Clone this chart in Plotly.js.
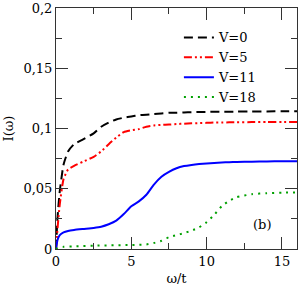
<!DOCTYPE html>
<html>
<head>
<meta charset="utf-8">
<script src="https://cdn.plot.ly/plotly-3.0.1.min.js"></script>
<style>html,body{margin:0;padding:0;background:#fff;}#chart{width:300px;height:288px;}</style>
</head>
<body>
<div id="chart"></div>
<script>
var omega = [0,0.1,0.25,0.5,0.8,1.2,1.8,2.5,3.0,3.5,4.0,4.5,5.0,5.5,6.0,6.5,7,7.5,8,8.5,9,9.5,10,10.5,11,11.5,12,13,14,15,16];
var v0  = [0,0.026,0.048,0.070,0.081,0.087,0.091,0.096,0.1015,0.105,0.1075,0.109,0.110,0.111,0.1115,0.112,0.1125,0.113,0.113,0.1133,0.1135,0.1137,0.1138,0.114,0.114,0.114,0.114,0.1142,0.1142,0.1143,0.1143];
var v5  = [0,0.017,0.037,0.058,0.066,0.069,0.0725,0.0765,0.081,0.087,0.0925,0.097,0.0985,0.0995,0.1015,0.1025,0.103,0.1033,0.1037,0.104,0.1043,0.1045,0.1047,0.1049,0.105,0.1051,0.1052,0.1053,0.1054,0.1055,0.1055];
var v11 = [0,0.0075,0.0115,0.0138,0.015,0.0158,0.0166,0.0175,0.0185,0.0205,0.0235,0.029,0.0355,0.0395,0.045,0.0535,0.060,0.064,0.067,0.0688,0.0698,0.0705,0.071,0.0714,0.0718,0.072,0.0722,0.0725,0.0727,0.0728,0.0728];
var v18 = [0,0.0008,0.0015,0.0018,0.002,0.0022,0.0025,0.0027,0.0029,0.003,0.0031,0.0032,0.0033,0.0035,0.0038,0.005,0.0068,0.0098,0.0115,0.0132,0.0152,0.018,0.0222,0.0283,0.0355,0.040,0.043,0.0455,0.0463,0.0468,0.047];
var names = ["V=0","V=5","V=11","V=18"];
var xTicks = [0,5,10,15];
var yTicks = [0,0.05,0.1,0.15,0.2];
var yTickText = ["0","0,05","0,1","0,15","0,2"];

var serif = "DejaVu Serif";
var fs = 13;
var traces = [
  {x: omega, y: v0,  name: names[0], mode: "lines", line: {color: "#000000", width: 2, dash: "9px,5px", shape: "spline", smoothing: 0.5}},
  {x: omega, y: v5,  name: names[1], mode: "lines", line: {color: "#ff0000", width: 2, dash: "8px,3px,2px,3px,2px,3px", shape: "spline", smoothing: 0.5}},
  {x: omega, y: v11, name: names[2], mode: "lines", line: {color: "#0000ff", width: 2, shape: "spline", smoothing: 0.5}},
  {x: omega, y: v18, name: names[3], mode: "lines", line: {color: "#00a000", width: 2, dash: "2px,5px", shape: "spline", smoothing: 0.5}}
];
var axisCommon = {
  showline: true, linecolor: "#333", linewidth: 1, mirror: "ticks",
  ticks: "inside", ticklen: 12, tickwidth: 1, tickcolor: "#333",
  showgrid: false, zeroline: false, ticklabeloverflow: "allow",
  tickfont: {family: serif, size: fs, color: "#000"}
};
var layout = {
  width: 300, height: 288,
  margin: {l: 56, r: 3, t: 8, b: 39},
  paper_bgcolor: "#fff", plot_bgcolor: "#fff",
  font: {family: serif, size: fs, color: "#000"},
  showlegend: true,
  legend: {x: 0.51, y: 0.94, xanchor: "left", yanchor: "top", bgcolor: "rgba(0,0,0,0)",
           font: {family: serif, size: fs, color: "#000"}, tracegroupgap: 0},
  xaxis: Object.assign({}, axisCommon, {
    range: [0, 16], tickvals: xTicks, ticktext: xTicks.map(String),
    minor: {dtick: 2.5, tick0: 0, ticks: "inside", ticklen: 6, tickcolor: "#333", showgrid: false},
    title: {text: "ω/t", font: {family: serif, size: fs, color: "#000"}, standoff: 6}
  }),
  yaxis: Object.assign({}, axisCommon, {
    range: [0, 0.20001], tickvals: yTicks, ticktext: yTickText,
    minor: {dtick: 0.025, tick0: 0, ticks: "inside", ticklen: 6, tickcolor: "#333", showgrid: false},
    title: {text: "I(ω)", font: {family: serif, size: fs, color: "#000"}, standoff: 6}
  }),
  annotations: [{xref: "paper", yref: "paper", x: 0.855, y: 0.10, xanchor: "center", yanchor: "middle",
                 text: "(b)", showarrow: false, font: {family: serif, size: fs, color: "#000"}}]
};
Plotly.newPlot("chart", traces, layout, {displayModeBar: false, staticPlot: true});
</script>
</body>
</html>
